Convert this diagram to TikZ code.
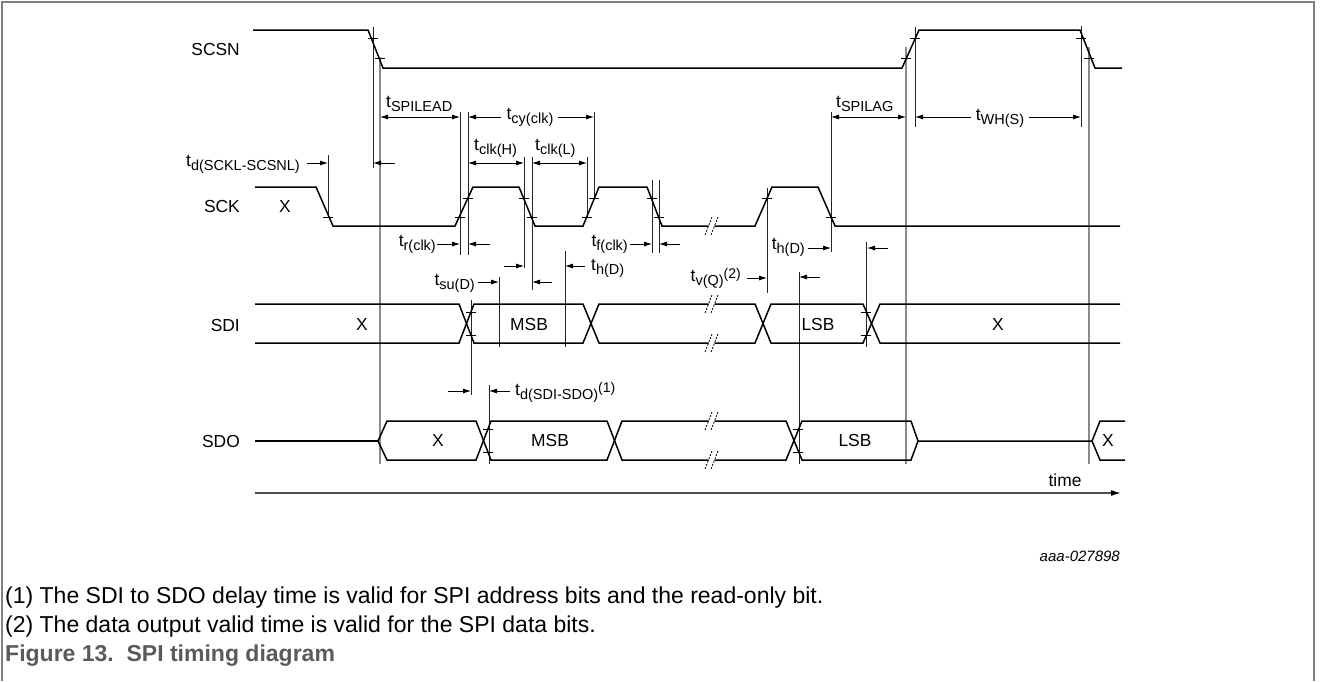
\documentclass[tikz,border=0pt]{standalone}
\usepackage{fontspec}
\setmainfont{Liberation Sans}
\usetikzlibrary{arrows.meta}
\definecolor{framegrey}{HTML}{808080}
\definecolor{refgrey}{HTML}{8A8A8A}
\definecolor{capgrey}{HTML}{5A5A5A}
\newcommand{\tsb}[1]{t\raisebox{-4pt}{\fontsize{14.5}{14.5}\selectfont #1}}
\newcommand{\tsp}[1]{\raisebox{3pt}{\fontsize{14}{14}\selectfont #1}}
\begin{document}
\begin{tikzpicture}[x=1pt,y=-1pt,
  sig/.style={line width=1.5pt, line join=miter},
  refl/.style={line width=0.8pt, black!85},
  gref/.style={line width=1.5pt, refgrey},
  tickm/.style={line width=0.8pt},
  dimarr/.style={line width=0.8pt,-{Latex[length=8pt,width=5pt]}},
  dimboth/.style={line width=0.8pt,{Latex[length=8pt,width=5pt]}-{Latex[length=8pt,width=5pt]}},
  lab/.style={font=\fontsize{17.4}{20}\selectfont, inner sep=0pt},
  brk/.style={line width=0.8pt, dash pattern=on 2pt off 1.5pt},
  note/.style={font=\fontsize{23}{27}\selectfont, inner sep=0pt, anchor=west},
]
\useasboundingbox (0,0) rectangle (1325,681);
% frame
\draw[framegrey, line width=1.5pt] (2,681) -- (2,2) -- (1314,2) -- (1314,681);

% ---------- reference lines ----------
\draw[gref] (380,57) -- (380,464);
\draw[gref] (906,47) -- (906,464);
\draw[gref] (1089,47) -- (1089,464);
\foreach \x/\ya/\yb in {328/155/217, 373/27/168, 460/112/255, 468/112/255,
  524/157/268, 532/157/290, 471/300/395, 489/385/464, 499/277/347, 565/251/347,
  587/157/217, 594/112/198, 652/180/253, 659/180/253, 767/188/293, 799/272/464,
  831/112/252, 866/242/347, 915/27/127, 1081/26/127}
  \draw[refl] (\x,\ya) -- (\x,\yb);

% ---------- signals ----------
% SCSN
\draw[sig] (253,30) -- (368,30) -- (383,68) -- (902,68) -- (919,30) -- (1080,30) -- (1095,68) -- (1122,68);
% SCK
\draw[sig] (255,187) -- (316,187) -- (333,226) -- (455,226) -- (473,187) -- (519,187) -- (535,226)
  -- (583,226) -- (599,187) -- (647,187) -- (662,226) -- (708.5,226);
\draw[sig] (714.5,226) -- (755,226) -- (772,187) -- (818,187) -- (835,226) -- (1120,226);
% SDI
\draw[sig] (255,304) -- (459,304) -- (474,343) -- (583,343) -- (599,304) -- (708.5,304);
\draw[sig] (714.5,304) -- (755,304) -- (771,343) -- (863,343) -- (880,304) -- (1120,304);
\draw[sig] (255,343) -- (459,343) -- (474,304) -- (583,304) -- (599,343) -- (708.5,343);
\draw[sig] (714.5,343) -- (755,343) -- (771,304) -- (863,304) -- (880,343) -- (1120,343);
% SDO
\draw[sig] (255,441) -- (378,441);
\draw[sig] (378,441) -- (387,421) -- (476,421) -- (491,460) -- (607,460) -- (622,421) -- (708.5,421);
\draw[sig] (714.5,421) -- (786,421) -- (802,460) -- (911,460) -- (918,441);
\draw[sig] (378,441) -- (387,460) -- (476,460) -- (491,421) -- (607,421) -- (622,460) -- (708.5,460);
\draw[sig] (714.5,460) -- (786,460) -- (802,421) -- (911,421) -- (918,441);
\draw[sig] (918,441) -- (1092,441) -- (1100,421) -- (1125,421);
\draw[sig] (1092,441) -- (1100,460) -- (1125,460);

% break marks
\foreach \y in {226,304,343,421,460} {
  \draw[brk] (705,\y+9) -- (712,\y-9);
  \draw[brk] (711,\y+9) -- (718,\y-9);
}

% edge ticks
\foreach \x/\y in {373/38, 380/58, 906/58, 915/38, 1081/38, 1089/58,
  328/217, 460/217, 468/198, 524/198, 532/217, 587/217, 594/198, 652/198, 659/217,
  767/198, 831/217, 471/312, 471/335, 866/312, 866/335, 488/429, 488/452, 798/429, 798/452}
  \draw[tickm] (\x-5,\y) -- (\x+5,\y);

% ---------- signal names and data labels ----------
\node[lab, anchor=east] (nSCSN) at (240,50) {SCSN};
\node[lab, anchor=east] (nSCK) at (240,207) {SCK};
\node[lab, anchor=east] (nSDI) at (240,326) {SDI};
\node[lab, anchor=east] (nSDO) at (240,442) {SDO};
\node[lab] (xsck) at (285,207) {X};
\node[lab] (xsdia) at (362,325) {X};
\node[lab] (msbi) at (529,325) {MSB};
\node[lab] (lsbi) at (818,325) {LSB};
\node[lab] (xsdib) at (998,325) {X};
\node[lab] (xsdoa) at (438,441) {X};
\node[lab] (msbo) at (550,441) {MSB};
\node[lab] (lsbo) at (855,441) {LSB};
\node[lab] (xsdob) at (1108,441) {X};

% ---------- timing labels ----------
\node[lab, anchor=east] (ltd) at (300,164) {\tsb{d(SCKL-SCSNL)}};
\node[lab, anchor=west] (llead) at (386,104) {\tsb{SPILEAD}};
\node[lab] (lcy) at (530,117) {\tsb{cy(clk)}};
\node[lab, anchor=west] (lch) at (474,148) {\tsb{clk(H)}};
\node[lab, anchor=west] (lcl) at (535,148) {\tsb{clk(L)}};
\node[lab, anchor=east] (ltr) at (436,244) {\tsb{r(clk)}};
\node[lab, anchor=east] (ltf) at (628,244) {\tsb{f(clk)}};
\node[lab, anchor=east] (ltsu) at (475,283) {\tsb{su(D)}};
\node[lab, anchor=west] (lthm) at (591,268) {\tsb{h(D)}};
\node[lab, anchor=east] (ltv) at (741,278) {\tsb{v(Q)}\tsp{(2)}};
\node[lab, anchor=east] (lthr) at (805,247) {\tsb{h(D)}};
\node[lab, anchor=west] (ltdd) at (515,392) {\tsb{d(SDI-SDO)}\tsp{(1)}};
\node[lab, anchor=west] (llag) at (836,104) {\tsb{SPILAG}};
\node[lab] (lwh) at (1000,118) {\tsb{WH(S)}};

% ---------- dimension arrows ----------
\draw[dimarr] (307,163) -- (328,163);
\draw[dimarr] (395,163) -- (373,163);
\draw[dimboth] (380,117) -- (460,117);
\draw[dimarr] ([xshift=-5pt]lcy.west |- 0,117) -- (468,117);
\draw[dimarr] ([xshift=4pt]lcy.east |- 0,117) -- (594,117);
\draw[dimboth] (468,163) -- (524,163);
\draw[dimboth] (532,163) -- (587,163);
\draw[dimarr] (437,244) -- (460,244);
\draw[dimarr] (490,244) -- (468,244);
\draw[dimarr] (630,244) -- (652,244);
\draw[dimarr] (680,244) -- (659,244);
\draw[dimarr] (504,266) -- (524,266);
\draw[dimarr] (552,282) -- (532,282);
\draw[dimarr] (585,266) -- (565,266);
\draw[dimarr] (478,282) -- (499,282);
\draw[dimarr] (448,391) -- (471,391);
\draw[dimarr] (510,391) -- (489,391);
\draw[dimarr] (747,278) -- (767,278);
\draw[dimarr] (820,277) -- (799,277);
\draw[dimarr] (808,248) -- (831,248);
\draw[dimarr] (888,248) -- (867,248);
\draw[dimboth] (831,117) -- (906,117);
\draw[dimarr] ([xshift=-5pt]lwh.west |- 0,117) -- (915,117);
\draw[dimarr] ([xshift=5pt]lwh.east |- 0,117) -- (1081,117);

% ---------- time axis ----------
\draw[line width=1.3pt, black!70, -{Latex[length=10pt,width=6pt,color=black]}] (255,493) -- (1121,493);
\node[lab] (ltime) at (1065,480) {time};
\node[inner sep=0pt, anchor=east, font=\fontsize{15}{18}\selectfont\itshape] (lid) at (1120,556) {aaa-027898};

% ---------- notes ----------
\node[note] (fna) at (5,598) {(1) The SDI to SDO delay time is valid for SPI address bits and the read-only bit.};
\node[note] (fnb) at (5,627) {(2) The data output valid time is valid for the SPI data bits.};
\node[note, text=capgrey, font=\fontsize{23}{27}\selectfont\bfseries] (cap) at (5,656) {Figure 13.\ \ SPI timing diagram};
\end{tikzpicture}
\end{document}
